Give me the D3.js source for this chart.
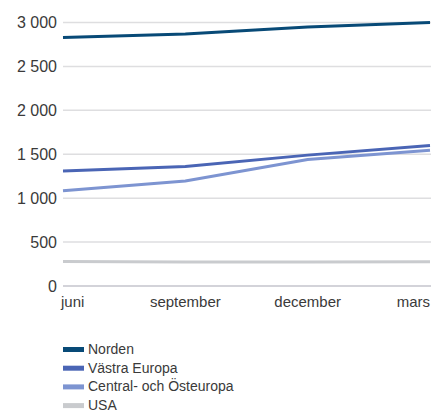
<!DOCTYPE html>
<html>
<head>
<meta charset="utf-8">
<script src="https://cdn.jsdelivr.net/npm/d3@7"></script>
<style>
    body { margin: 0; background: #fff; }
    svg text { font-family: "Liberation Sans", Arial, sans-serif; fill: #3a3a3a; }
</style>
</head>
<body>
<svg id="chart" width="431" height="412"></svg>
<script>
const months = ["juni", "september", "december", "mars"];
const norden = [2830, 2870, 2950, 3000];
const vastraEuropa = [1310, 1360, 1490, 1600];
const centralOsteuropa = [1085, 1195, 1440, 1545];
const usa = [280, 274, 274, 277];
const yTicks = [0, 500, 1000, 1500, 2000, 2500, 3000];

const series = [
    { name: "Norden", values: norden, color: "#084a77" },
    { name: "Västra Europa", values: vastraEuropa, color: "#4a65b5" },
    { name: "Central- och Östeuropa", values: centralOsteuropa, color: "#7d94d1" },
    { name: "USA", values: usa, color: "#c9cbce" }
];

const svg = d3.select("#chart");

let x = d3.scalePoint().domain(months).range([63, 430]);
let y = d3.scaleLinear().domain([0, 3000]).range([286, 22.5]);

let fmt = d => d3.format(",")(d).replace(",", " ");

// gridlines
svg.append("g")
    .selectAll("line")
    .data(yTicks)
    .join("line")
    .attr("x1", 63)
    .attr("x2", 431)
    .attr("y1", d => y(d))
    .attr("y2", d => y(d))
    .attr("stroke", d => d === 0 ? "#c4c4cc" : "#dedee0")
    .attr("stroke-width", 1.5);

// y labels
svg.append("g")
    .selectAll("text")
    .data(yTicks)
    .join("text")
    .attr("x", 57)
    .attr("y", d => y(d) + 5.5)
    .attr("text-anchor", "end")
    .style("font-size", "16px")
    .text(fmt);

// x labels
svg.append("g")
    .selectAll("text")
    .data(months)
    .join("text")
    .attr("x", d => x(d))
    .attr("y", 307)
    .attr("text-anchor", (d, i) => i === 0 ? "start" : (i === months.length - 1 ? "end" : "middle"))
    .attr("dx", (d, i) => i === 0 ? -2 : 0)
    .style("font-size", "15px")
    .text(d => d);

let line = d3.line()
    .x((d, i) => x(months[i]))
    .y(d => y(d));

// draw back to front so Norden stays on top
svg.append("g")
    .selectAll("path")
    .data(series.slice().reverse())
    .join("path")
    .attr("d", d => line(d.values))
    .attr("fill", "none")
    .attr("stroke", d => d.color)
    .attr("stroke-width", 3);

// legend
let legend = svg.append("g")
    .selectAll("g")
    .data(series)
    .join("g")
    .attr("transform", (d, i) => "translate(63," + (349 + i * 18.7) + ")");

legend.append("rect")
    .attr("x", 0)
    .attr("y", -2)
    .attr("width", 21)
    .attr("height", 5)
    .attr("fill", d => d.color);

legend.append("text")
    .attr("x", 25)
    .attr("y", 5)
    .style("font-size", "14px")
    .text(d => d.name);
</script>
</body>
</html>
